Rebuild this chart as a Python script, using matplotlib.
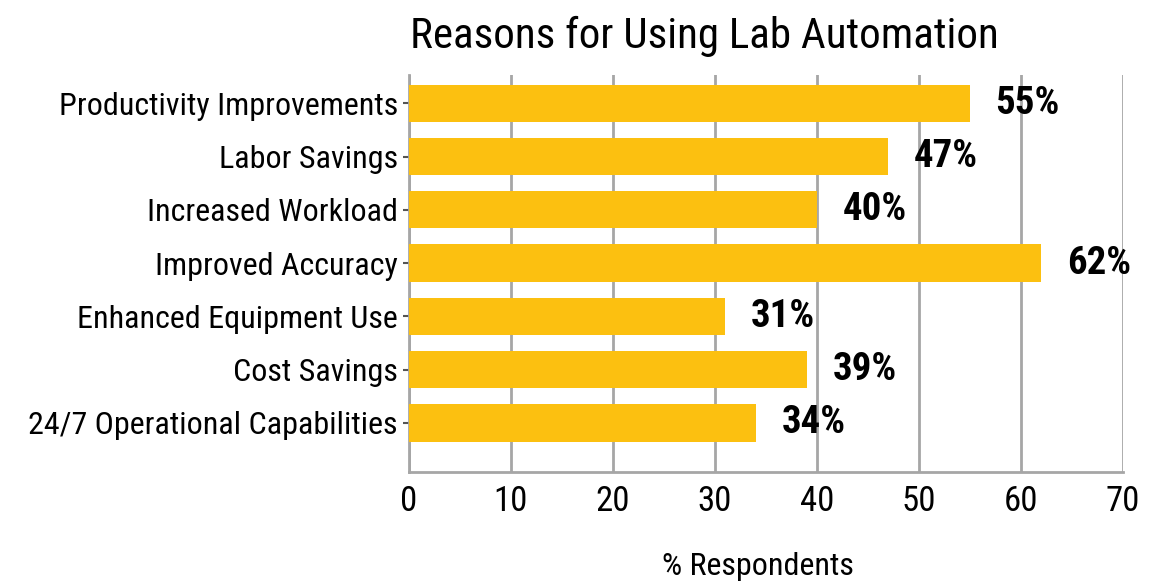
import matplotlib
matplotlib.use("Agg")
import matplotlib.pyplot as plt
from matplotlib import font_manager

categories = ["Productivity Improvements", "Labor Savings", "Increased Workload",
              "Improved Accuracy", "Enhanced Equipment Use", "Cost Savings",
              "24/7 Operational Capabilities"]
values = [55, 47, 40, 62, 31, 39, 34]
value_labels = ["55%", "47%", "40%", "62%", "31%", "39%", "34%"]
xticks = [0, 10, 20, 30, 40, 50, 60, 70]

names = {f.name for f in font_manager.fontManager.ttflist}
family = "DejaVu Sans"
stretch = "condensed"
for cand in ["Roboto Condensed", "Liberation Sans Narrow", "Arial Narrow"]:
    if cand in names:
        family = cand
        stretch = "normal"
        break
plt.rcParams["font.family"] = [family]
plt.rcParams["font.stretch"] = stretch

fig = plt.figure(figsize=(11.53, 5.81), dpi=100)
ax = fig.add_axes([0.3547, 0.1876, 0.6193, 0.6833])

bar_color = "#FCC010"
grid_color = "#A6A6A6"
ypos = list(range(len(categories)))
ax.barh(ypos, values, height=0.7, color=bar_color, zorder=3)
ax.set_ylim(6.92, -0.53)
ax.set_xlim(0, 70)
ax.set_xticks(xticks)
ax.set_xticklabels([str(t) for t in xticks], fontsize=25)
ax.set_yticks(ypos)
ax.set_yticklabels(categories, fontsize=23)
ax.grid(axis="x", color=grid_color, linewidth=2, zorder=0)
for s in ["top", "right"]:
    ax.spines[s].set_visible(False)
for s in ["left", "bottom"]:
    ax.spines[s].set_color(grid_color)
    ax.spines[s].set_linewidth(2)
ax.tick_params(axis="y", length=4, width=1.5, color="#555555", pad=4)
ax.tick_params(axis="x", length=0, pad=9)

for y, v, lab in zip(ypos, values, value_labels):
    ax.text(v + 2.5, y, lab, va="center", ha="left", fontsize=28,
            fontweight="bold", color="black", zorder=4)

fig.text(0.611, 0.937, "Reasons for Using Lab Automation", ha="center",
         va="center", fontsize=31, color="black")
fig.text(0.657, 0.025, "% Respondents", ha="center", va="center",
         fontsize=23, color="black")

fig.savefig("out.png", dpi=100)
